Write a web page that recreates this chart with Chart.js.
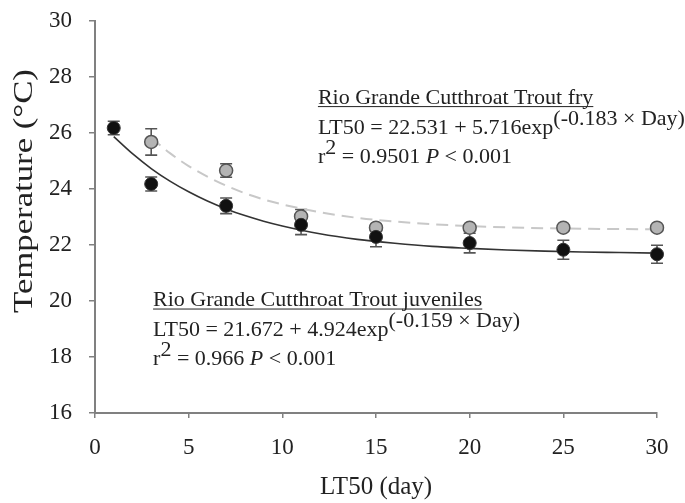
<!DOCTYPE html>
<html>
<head>
<meta charset="utf-8">
<title>LT50 temperature</title>
<script src="https://cdn.jsdelivr.net/npm/chart.js@4.4.1/dist/chart.umd.min.js"></script>
<style>
  html, body { margin: 0; padding: 0; background: #fff; }
  #wrap { width: 685px; height: 503px; position: relative; }
</style>
</head>
<body>
<div id="wrap"><canvas id="lt50Chart"></canvas></div>
<script>
const serif = "'Liberation Serif', 'Times New Roman', serif";

// measured points (day, °C) with +/- error
const juvenileDays = [1, 3, 7, 11, 15, 20, 25, 30];
const juvenileTemp = [26.18, 24.18, 23.4, 22.72, 22.29, 22.07, 21.83, 21.67];
const juvenileErr = [0.24, 0.25, 0.28, 0.35, 0.35, 0.35, 0.34, 0.32];

const fryDays = [3, 7, 11, 15, 20, 25, 30];
const fryTemp = [25.68, 24.66, 23.02, 22.62, 22.62, 22.62, 22.62];
const fryErr = [0.47, 0.24, 0.25, 0.12, 0.08, 0.08, 0.08];

// fitted curves as they run across the plot
const juvenileFitDays = [1, 2, 3, 4, 5, 6, 7, 8, 9, 10, 12, 14, 16, 18, 20, 22, 24, 26, 28, 30];
const juvenileFitTemp = [25.87, 25.26, 24.73, 24.28, 23.9, 23.57, 23.29, 23.05, 22.85, 22.68,
  22.4, 22.2, 22.06, 21.95, 21.88, 21.82, 21.78, 21.75, 21.73, 21.71];
const fryFitDays = [3, 4, 5, 6, 7, 8, 9, 10, 12, 14, 16, 18, 20, 22, 24, 26, 28, 30];
const fryFitTemp = [25.83, 25.28, 24.82, 24.44, 24.12, 23.85, 23.63, 23.45, 23.17, 22.97,
  22.84, 22.74, 22.68, 22.63, 22.6, 22.58, 22.57, 22.56];

const xTickValues = [0, 5, 10, 15, 20, 25, 30];
const yTickValues = [16, 18, 20, 22, 24, 26, 28, 30];

const toPoints = (xs, ys) => xs.map((x, i) => ({ x, y: ys[i] }));

const errorBars = {
  id: "errorBars",
  beforeDatasetsDraw(chart) {
    const { ctx, scales: { x, y } } = chart;
    const sets = [
      { days: fryDays, temp: fryTemp, err: fryErr },
      { days: juvenileDays, temp: juvenileTemp, err: juvenileErr },
    ];
    ctx.save();
    ctx.strokeStyle = "#555";
    ctx.lineWidth = 1.6;
    sets.forEach((s) => {
      s.days.forEach((d, i) => {
        const px = x.getPixelForValue(d);
        const top = y.getPixelForValue(s.temp[i] + s.err[i]);
        const bot = y.getPixelForValue(s.temp[i] - s.err[i]);
        ctx.beginPath();
        ctx.moveTo(px, top); ctx.lineTo(px, bot);
        ctx.moveTo(px - 6, top); ctx.lineTo(px + 6, top);
        ctx.moveTo(px - 6, bot); ctx.lineTo(px + 6, bot);
        ctx.stroke();
      });
    });
    ctx.restore();
  },
};

// writes a run of text pieces; piece = [text, {sup, italic}]
function writeRun(ctx, x, y, pieces, size) {
  let cx = x;
  pieces.forEach(([text, opt = {}]) => {
    ctx.font = `${opt.italic ? "italic " : ""}${size}px ${serif}`;
    ctx.fillText(text, cx, opt.sup ? y - 9 : y);
    cx += ctx.measureText(text).width;
  });
  return cx;
}

const fitLabels = {
  id: "fitLabels",
  afterDraw(chart) {
    const { ctx, scales: { x, y } } = chart;
    const size = 22;
    ctx.save();
    ctx.fillStyle = "#222";
    ctx.strokeStyle = "#222";
    ctx.lineWidth = 1;
    ctx.textBaseline = "alphabetic";

    const blocks = [
      { day: 11.9, rows: [27.05, 25.98, 24.92], name: "Rio Grande Cutthroat Trout fry",
        eq: ["LT50 = 22.531 + 5.716exp", "(-0.183 × Day)"], r2: " = 0.9501 " },
      { day: 3.1, rows: [19.82, 18.75, 17.7], name: "Rio Grande Cutthroat Trout juveniles",
        eq: ["LT50 = 21.672 + 4.924exp", "(-0.159 × Day)"], r2: " = 0.966 " },
    ];
    blocks.forEach((b) => {
      const left = x.getPixelForValue(b.day);
      const [y1, y2, y3] = b.rows.map((v) => y.getPixelForValue(v));
      const end = writeRun(ctx, left, y1, [[b.name]], size);
      ctx.beginPath();
      ctx.moveTo(left, y1 + 3); ctx.lineTo(end, y1 + 3);
      ctx.stroke();
      writeRun(ctx, left, y2, [[b.eq[0]], [b.eq[1], { sup: true }]], size);
      writeRun(ctx, left, y3, [["r"], ["2", { sup: true }], [b.r2], ["P", { italic: true }], [" < 0.001"]], size);
    });

    // y axis title, drawn wide like the original figure
    ctx.font = `28px ${serif}`;
    ctx.textAlign = "center";
    ctx.textBaseline = "middle";
    ctx.translate(25, 191);
    ctx.rotate(-Math.PI / 2);
    ctx.scale(1.24, 1);
    ctx.fillText("Temperature (°C)", 0, 0);
    ctx.restore();
  },
};

new Chart(document.getElementById("lt50Chart"), {
  type: "scatter",
  data: {
    datasets: [
      {
        label: "juveniles",
        data: toPoints(juvenileDays, juvenileTemp),
        pointRadius: 6.5,
        pointBackgroundColor: "#111",
        pointBorderColor: "#333",
        pointBorderWidth: 1,
        clip: false,
        order: 0,
      },
      {
        label: "fry",
        data: toPoints(fryDays, fryTemp),
        pointRadius: 6.5,
        pointBackgroundColor: "#b4b4b4",
        pointBorderColor: "#555",
        pointBorderWidth: 1.5,
        clip: false,
        order: 1,
      },
      {
        type: "line",
        label: "juvenile fit",
        data: toPoints(juvenileFitDays, juvenileFitTemp),
        borderColor: "#333",
        borderWidth: 1.6,
        pointRadius: 0,
        cubicInterpolationMode: "monotone",
        order: 2,
      },
      {
        type: "line",
        label: "fry fit",
        data: toPoints(fryFitDays, fryFitTemp),
        borderColor: "#c8c8c8",
        borderWidth: 2,
        borderDash: [12, 7],
        pointRadius: 0,
        cubicInterpolationMode: "monotone",
        order: 3,
      },
    ],
  },
  options: {
    responsive: true,
    maintainAspectRatio: false,
    animation: false,
    layout: { padding: { top: 21, right: 28, left: 0, bottom: 0 } },
    plugins: { legend: { display: false }, tooltip: { enabled: false } },
    scales: {
      x: {
        type: "linear",
        min: 0,
        max: 30,
        afterBuildTicks: (axis) => { axis.ticks = xTickValues.map((v) => ({ value: v })); },
        afterFit: (axis) => { axis.height = 90; },
        border: { color: "#808080", width: 2 },
        grid: { drawOnChartArea: false, drawTicks: true, tickLength: 5, color: "#808080", lineWidth: 1.5 },
        ticks: { color: "#222", font: { family: serif, size: 23 }, padding: 16, maxRotation: 0 },
        title: { display: true, text: "LT50 (day)", color: "#222", font: { family: serif, size: 25 }, padding: { top: 0, bottom: 1 } },
      },
      y: {
        type: "linear",
        min: 16,
        max: 30,
        afterBuildTicks: (axis) => { axis.ticks = yTickValues.map((v) => ({ value: v })); },
        afterFit: (axis) => {
          axis.width = 95;
          axis.paddingTop = 0;
          axis.paddingBottom = 0;
        },
        border: { color: "#808080", width: 2 },
        grid: { drawOnChartArea: false, drawTicks: true, tickLength: 6, color: "#808080", lineWidth: 1.5 },
        ticks: { color: "#222", font: { family: serif, size: 23 }, padding: 17 },
        title: { display: false },
      },
    },
  },
  plugins: [errorBars, fitLabels],
});
</script>
</body>
</html>
